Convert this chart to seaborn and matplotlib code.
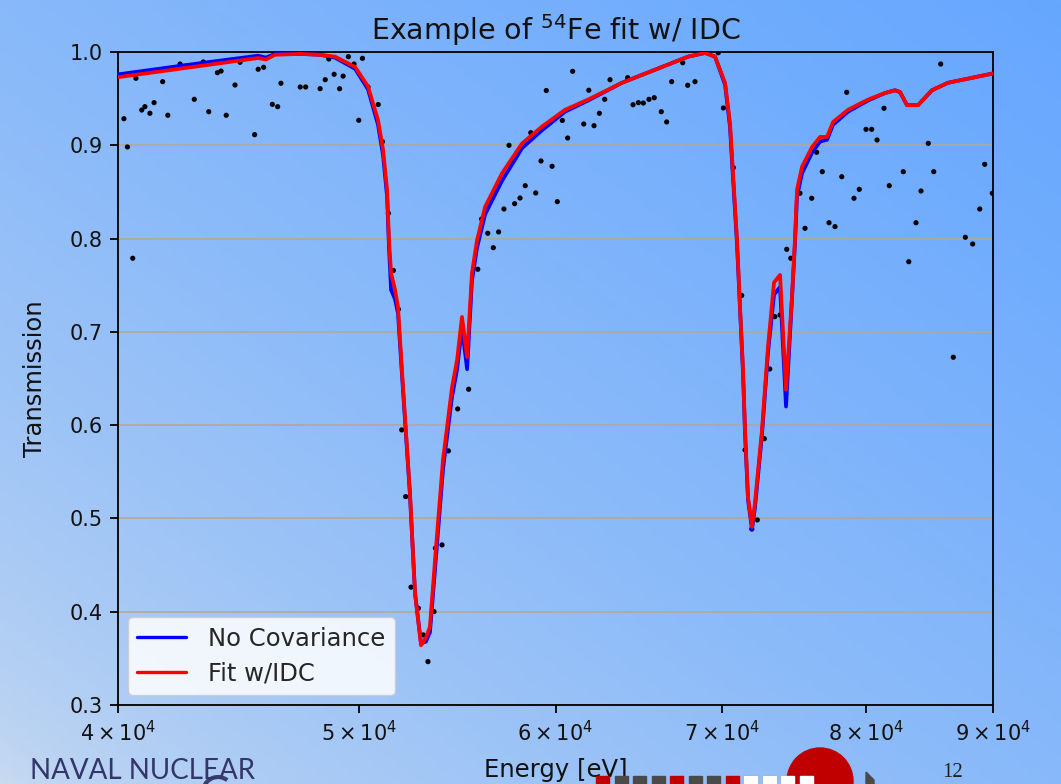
import numpy as np
import pandas as pd
import matplotlib
matplotlib.use("Agg")
import matplotlib.pyplot as plt
import seaborn as sns
from matplotlib.ticker import NullLocator, NullFormatter
from matplotlib.patches import Rectangle, Polygon, Ellipse, Arc

# ---------------- data ----------------
energy_fit = [40000, 43160, 45540, 45880, 46265, 47350, 48240, 48910, 49830, 50430,
              50900, 51140, 51330, 51420, 51520, 51710, 51850, 52040, 52430, 52675,
              52970, 53210, 53410, 53660, 54060, 54510, 54770, 55020, 55280, 55530,
              55790, 56210, 57100, 58170, 59250, 60530, 61840, 63810, 65800, 67840,
              68920, 69560, 70210, 70530, 70730, 70990, 71190, 71390, 71520, 71720,
              71985, 72185, 72655, 73060, 73470, 73880, 74290, 74700, 74910, 75050,
              75400, 76100, 76670, 77170, 77600, 78680, 80155, 81430, 82190, 82570,
              83105, 83960, 85050, 86320, 88510, 90000]
trans_nocov = [0.976, 0.988, 0.996, 0.994, 0.998, 0.998, 0.997, 0.994, 0.982, 0.960,
               0.922, 0.889, 0.845, 0.790, 0.745, 0.735, 0.720, 0.655, 0.525, 0.420,
               0.366, 0.368, 0.378, 0.445, 0.553, 0.630, 0.660, 0.705, 0.660, 0.755,
               0.790, 0.826, 0.862, 0.897, 0.916, 0.936, 0.948, 0.967, 0.981, 0.995,
               0.999, 0.995, 0.965, 0.920, 0.865, 0.795, 0.725, 0.655, 0.592, 0.520,
               0.488, 0.512, 0.590, 0.678, 0.740, 0.748, 0.620, 0.735, 0.795, 0.845,
               0.870, 0.892, 0.904, 0.906, 0.922, 0.936, 0.948, 0.956, 0.959, 0.957,
               0.943, 0.943, 0.959, 0.967, 0.973, 0.977]
trans_idc = [0.973, 0.985, 0.9935, 0.992, 0.997, 0.998, 0.997, 0.995, 0.984, 0.963,
             0.927, 0.895, 0.852, 0.798, 0.763, 0.745, 0.727, 0.659, 0.527, 0.420,
             0.364, 0.372, 0.384, 0.455, 0.563, 0.640, 0.670, 0.716, 0.673, 0.763,
             0.798, 0.834, 0.870, 0.902, 0.920, 0.938, 0.949, 0.967, 0.981, 0.995,
             0.999, 0.995, 0.967, 0.924, 0.870, 0.799, 0.727, 0.659, 0.595, 0.523,
             0.491, 0.517, 0.595, 0.684, 0.753, 0.761, 0.638, 0.737, 0.800, 0.852,
             0.877, 0.898, 0.909, 0.909, 0.925, 0.938, 0.949, 0.956, 0.959, 0.957,
             0.943, 0.943, 0.959, 0.967, 0.973, 0.977]

energy_data = [40220, 40350, 40550, 40670, 40890, 41010, 41200, 41360, 41690, 41890,
               42370, 42600, 42930, 43290, 43510, 43860, 44010, 44220, 44580, 44790,
               45400, 45550, 45780, 46150, 46380, 46520, 47130, 47360, 47600, 48240,
               48470, 48630, 48870, 49120, 49280, 49520, 49780, 50170, 50000, 50430,
               50910, 51110, 51390, 51630, 51870, 52030, 52220, 52480, 52840, 53080,
               53310, 53610, 53680, 54010, 54330, 54800, 55360, 55830, 56030, 56350,
               56640, 56920, 57200, 57470, 57770, 58060, 58340, 58640, 58910, 59200,
               59490, 59810, 60100, 60380, 60680, 60960, 61590, 61880, 62180, 62490,
               62800, 63110, 64150, 64470, 64790, 65090, 65430, 65750, 66180, 66510,
               66820, 67510, 67820, 68280, 69770, 70100, 70750, 71300, 71520, 71970,
               72340, 72810, 73180, 73520, 73880, 74340, 74620, 75260, 75610, 76080,
               76430, 76830, 77310, 77740, 78230, 78590, 79120, 79510, 80010, 80430,
               80830, 81350, 81750, 82820, 83240, 83800, 84190, 84760, 85190, 85740,
               86750, 87720, 88320, 88900, 89310, 89940]
trans_data = [0.9285, 0.8982, 0.7789, 0.9718, 0.9378, 0.9414, 0.9343, 0.9457, 0.9682, 0.9322,
              0.9871, 0.9850, 0.9493, 0.9893, 0.9360, 0.9778, 0.9796, 0.9322, 0.9646, 0.9890,
              0.9114, 0.9815, 0.9836, 0.9439, 0.9414, 0.9665, 0.9992, 0.9625, 0.9625, 0.9607,
              0.9703, 0.9925, 0.9761, 0.9606, 0.9741, 0.9950, 0.9871, 0.9932, 0.9268, 0.9625,
              0.9437, 0.9039, 0.8271, 0.7658, 0.7242, 0.5949, 0.5234, 0.4263, 0.4037, 0.3751,
              0.3465, 0.4001, 0.4681, 0.4716, 0.5724, 0.6174, 0.6385, 0.7671, 0.8210, 0.8057,
              0.7902, 0.8071, 0.8317, 0.9000, 0.8374, 0.8435, 0.8567, 0.9135, 0.8489, 0.8832,
              0.9587, 0.8775, 0.8396, 0.9266, 0.9078, 0.9793, 0.9228, 0.9590, 0.9210, 0.9343,
              0.9493, 0.9703, 0.9725, 0.9435, 0.9457, 0.9453, 0.9493, 0.9510, 0.9360, 0.9250,
              0.9682, 0.9885, 0.9643, 0.9682, 0.9992, 0.9400, 0.8760, 0.7390, 0.5734, 0.4887,
              0.4984, 0.5855, 0.6602, 0.7163, 0.7181, 0.7885, 0.7789, 0.8486, 0.8110, 0.8432,
              0.8925, 0.8717, 0.8170, 0.8128, 0.8663, 0.9568, 0.8432, 0.8528, 0.9171, 0.9171,
              0.9057, 0.9397, 0.8567, 0.8717, 0.7752, 0.8170, 0.8510, 0.9021, 0.8717, 0.9871,
              0.6728, 0.8014, 0.7942, 0.8317, 0.8796, 0.8486]

x_ticks = [40000, 50000, 60000, 70000, 80000, 90000]
x_ticklabels = [r"$4\times10^{4}$", r"$5\times10^{4}$", r"$6\times10^{4}$",
                r"$7\times10^{4}$", r"$8\times10^{4}$", r"$9\times10^{4}$"]
y_ticks = [0.3, 0.4, 0.5, 0.6, 0.7, 0.8, 0.9, 1.0]
y_ticklabels = ["0.3", "0.4", "0.5", "0.6", "0.7", "0.8", "0.9", "1.0"]

title_text = r"Example of $^{54}$Fe fit w/ IDC"
series_labels = ["No Covariance", "Fit w/IDC"]

fit_df = pd.DataFrame({"Energy": energy_fit, "nocov": trans_nocov, "idc": trans_idc})
data_df = pd.DataFrame({"Energy": energy_data, "T": trans_data})

# ---------------- figure ----------------
sns.set_style("ticks")
plt.rcParams["font.family"] = ["DejaVu Sans"]
plt.rcParams["mathtext.fontset"] = "dejavusans"

W, H = 1061, 784
fig = plt.figure(figsize=(W / 100, H / 100), dpi=100)

# slide gradient background
bg = fig.add_axes([0, 0, 1, 1], zorder=-10)
nx, ny = 240, 180
u = np.linspace(0, 1, nx)[None, :]
v = np.linspace(0, 1, ny)[:, None]
t = np.clip(0.5 * u + 0.5 * v, 0, 1) ** 0.6
c0 = np.array([202, 219, 240]) / 255.0
c1 = np.array([102, 167, 255]) / 255.0
grad = c0[None, None, :] * (1 - t[..., None]) + c1[None, None, :] * t[..., None]
bg.imshow(grad, extent=[0, 1, 0, 1], origin="lower", aspect="auto")
bg.set_xlim(0, 1)
bg.set_ylim(0, 1)
bg.axis("off")

ax = fig.add_axes([118 / W, 1 - 705 / H, (993 - 118) / W, (705 - 52) / H])
ax.set_facecolor("none")

sns.scatterplot(data=data_df, x="Energy", y="T", color="black", s=14,
                edgecolor="none", legend=False, ax=ax, zorder=2)
sns.lineplot(data=fit_df, x="Energy", y="nocov", color="#0000ff", lw=2.7,
             estimator=None, label=series_labels[0], ax=ax, zorder=3)
sns.lineplot(data=fit_df, x="Energy", y="idc", color="#ff0000", lw=2.7,
             estimator=None, label=series_labels[1], ax=ax, zorder=4)

ax.set_xscale("log")
ax.set_xlim(40000, 90000)
ax.set_ylim(0.3, 1.0)
ax.set_xticks(x_ticks)
ax.set_xticklabels(x_ticklabels)
ax.xaxis.set_minor_locator(NullLocator())
ax.xaxis.set_minor_formatter(NullFormatter())
ax.set_yticks(y_ticks)
ax.set_yticklabels(y_ticklabels)

ax.yaxis.grid(True, color="#b3a98c", lw=1.1)
ax.xaxis.grid(False)
ax.set_axisbelow(True)
for s in ax.spines.values():
    s.set_color("black")
    s.set_linewidth(1.3)
    s.set_visible(True)
ax.tick_params(axis="both", which="major", labelsize=15, length=6, width=1.3,
               color="black", labelcolor="#111111", direction="out", pad=5)

ax.set_title(title_text, fontsize=20.5, color="#111111", pad=9)
ax.set_ylabel("Transmission", fontsize=17.5, color="#111111", labelpad=16)
ax.set_xlabel("Energy [eV]", fontsize=17.5, color="#111111", labelpad=9)

leg = ax.legend(loc="lower left", fontsize=17.5, framealpha=0.85, handlelength=2.0,
                borderpad=0.4, labelspacing=0.45, borderaxespad=0.4, handletextpad=0.9)
leg.get_frame().set_facecolor("white")
leg.get_frame().set_edgecolor("#cccccc")
for line in leg.get_lines():
    line.set_linewidth(2.4)

# ---------------- slide decorations ----------------
fig.text(30 / W, 1 - 779 / H, "NAVAL NUCLEAR", fontsize=20, color="#33366a",
         family=["Lato", "DejaVu Sans"], fontweight="normal", ha="left", va="baseline")
fig.add_artist(Arc((218 / W, 1 - 792 / H), 30 / W, 30 / H, theta1=60, theta2=160,
                   transform=fig.transFigure, color="#3b3f6e", lw=3))
fig.text(953 / W, 2 / H, "12", fontsize=15, color="#222222",
         family=["Liberation Serif", "DejaVu Serif"], ha="center", va="bottom")

# dashed progress bar with arrow
sq_w, gap = 13, 5.5
colors_bar = ["#c00000", "#4a4a4a", "#4a4a4a", "#4a4a4a", "#c00000", "#4a4a4a",
              "#4a4a4a", "#c00000", "white", "white", "white", "white"]
x0 = 596
for i, c in enumerate(colors_bar):
    fig.add_artist(Rectangle(((x0 + i * (sq_w + gap)) / W, 0), sq_w / W, 8 / H,
                             transform=fig.transFigure,
                             color="#4a4a4a" if c == "white" else c, zorder=5))
fig.add_artist(Ellipse((820 / W, 1 - 781 / H), 66 / W, 66 / H, transform=fig.transFigure,
                       color="#c00000", zorder=6))
for i, c in enumerate(colors_bar):
    if c == "white":
        xx = x0 + i * (sq_w + gap)
        fig.add_artist(Rectangle((xx / W, 0), sq_w / W, 8 / H, transform=fig.transFigure,
                                 color="white", zorder=7))
fig.add_artist(Polygon([[866 / W, 0], [866 / W, 12 / H], [874 / W, 4 / H], [874 / W, 0]],
                       closed=True, transform=fig.transFigure, color="#4a4a4a", zorder=5))

fig.savefig("out.png", dpi=100)
